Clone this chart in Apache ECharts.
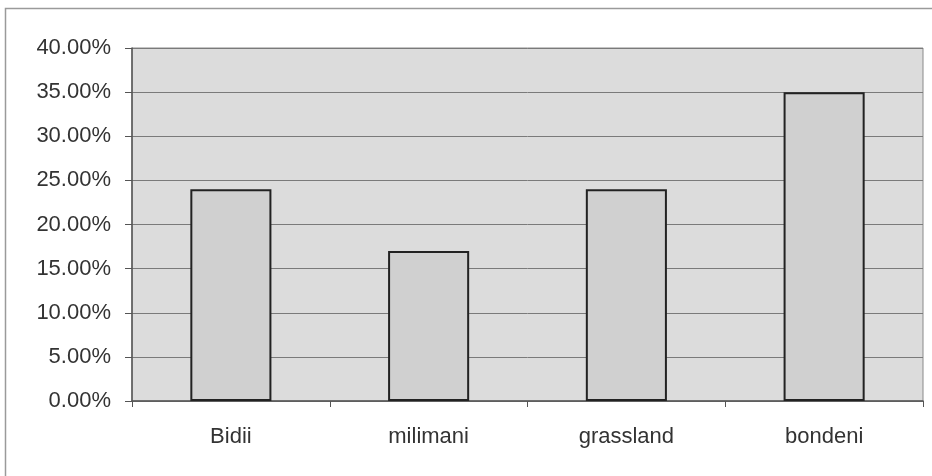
<!DOCTYPE html>
<html>
<head>
<meta charset="utf-8">
<script src="https://cdn.jsdelivr.net/npm/echarts@6/dist/echarts.min.js"></script>
<style>
  html, body { margin: 0; padding: 0; background: #fff; }
  #chart { width: 932px; height: 476px; }
</style>
</head>
<body>
<div id="chart"></div>
<script>
// Share of records per site (percent)
const sites = ['Bidii', 'milimani', 'grassland', 'bondeni'];
const shares = [24, 17, 24, 35];
const yTicks = { min: 0, max: 40, step: 5 };

const chart = echarts.init(document.getElementById('chart'), null, { renderer: 'canvas' });

const plot = { left: 132, top: 48, width: 791, height: 353 };

chart.setOption({
  backgroundColor: '#ffffff',
  animation: false,
  textStyle: { fontFamily: 'Liberation Sans, Arial, sans-serif' },
  grid: {
    left: plot.left, top: plot.top, width: plot.width, height: plot.height,
    show: true,
    backgroundColor: '#dcdcdc',
    borderColor: '#8a8a8a',
    borderWidth: 1
  },
  graphic: [
    {
      // outer chart frame
      type: 'rect',
      shape: { x: 5.5, y: 8.5, width: 1000, height: 1000 },
      style: { fill: 'none', stroke: '#9a9a9a', lineWidth: 1.5 },
      silent: true
    }
  ],
  xAxis: {
    type: 'category',
    data: sites,
    axisLine: { show: true, lineStyle: { color: '#555', width: 1.5 } },
    axisTick: { show: true, length: 6, lineStyle: { color: '#555' } },
    axisLabel: { color: '#333', fontSize: 22, margin: 25 },
    splitLine: { show: false }
  },
  yAxis: {
    type: 'value',
    min: yTicks.min,
    max: yTicks.max,
    interval: yTicks.step,
    axisLine: { show: true, lineStyle: { color: '#555', width: 1.5 } },
    axisTick: { show: true, length: 7, lineStyle: { color: '#555' } },
    axisLabel: {
      color: '#333', fontSize: 22, margin: 21,
      formatter: v => v.toFixed(2) + '%'
    },
    splitLine: { show: true, lineStyle: { color: '#7a7a7a', width: 1 } }
  },
  series: [{
    type: 'bar',
    data: shares,
    barWidth: '41%',
    itemStyle: {
      color: '#d0d0d0',
      borderColor: '#222',
      borderWidth: 2
    }
  }]
});
</script>
</body>
</html>
